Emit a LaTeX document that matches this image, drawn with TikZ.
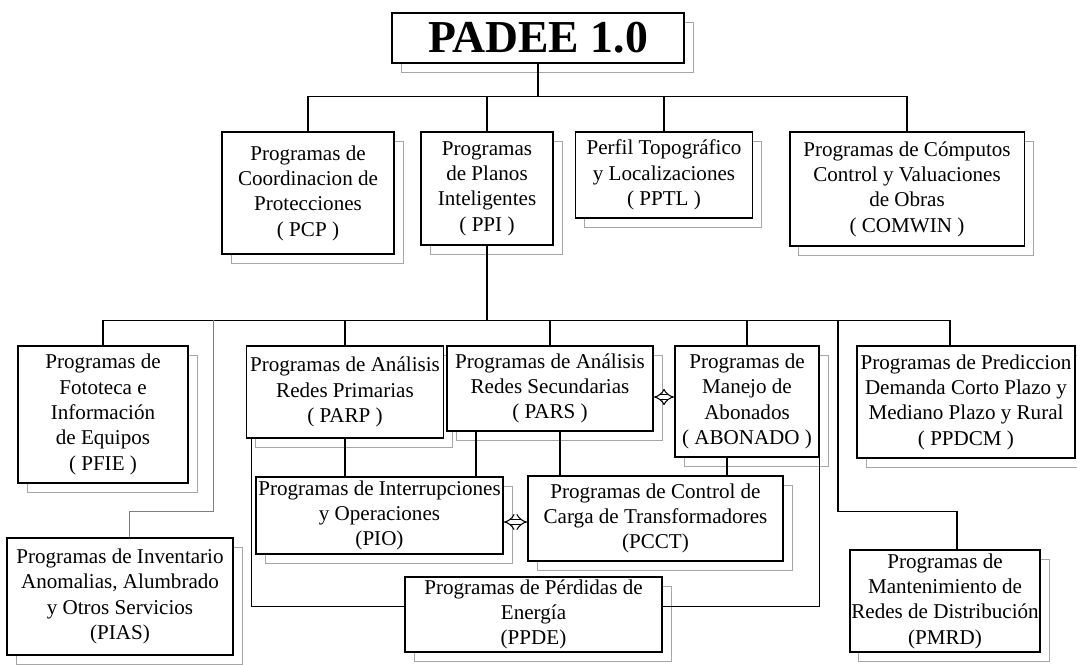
\documentclass[tikz,border=0pt]{standalone}
\usepackage{fontspec}
\setmainfont{Liberation Serif}
\usepackage{tikz}
\usetikzlibrary{arrows.meta, shadows}

\begin{document}
\begin{tikzpicture}[
                x=0.02cm, y=-0.02cm,
                line width=0.6pt,
                prog/.style={draw, fill=white, line width=1.1pt, align=center, inner sep=1pt,
                    font=\fontsize{12}{14.4}\selectfont,
                    copy shadow={shadow xshift=0.18cm, shadow yshift=-0.18cm, draw=gray!70, fill=white, line width=0.5pt}},
                headbox/.style={prog, font=\fontsize{26}{30}\selectfont\bfseries},
                link/.style={double, double distance=2.6pt, line width=0.6pt, Implies-Implies}
            ]
                \useasboundingbox (0,0) rectangle (1077,664);
                \node[headbox, minimum width=5.84cm, minimum height=1.0cm] (padee) at (538,38) {PADEE 1.0};
                \node[prog, minimum width=3.44cm, minimum height=2.44cm] (pcp) at (308,193) {Programas de\\Coordinacion de\\Protecciones\\( PCP )};
                \node[prog, minimum width=2.64cm, minimum height=2.26cm] (ppi) at (487,188.5) {Programas\\de Planos\\Inteligentes\\( PPI )};
                \node[prog, minimum width=3.54cm, minimum height=1.72cm] (pptl) at (664,175) {Perfil Topográfico\\y Localizaciones\\( PPTL )};
                \node[prog, minimum width=4.7cm, minimum height=2.28cm] (comwin) at (907,189) {Programas de Cómputos\\Control y Valuaciones\\de Obras\\( COMWIN )};
                \node[prog, minimum width=3.4cm, minimum height=2.74cm] (pfie) at (103,414.5) {Programas de\\Fototeca e\\Información\\de Equipos\\( PFIE )};
                \node[prog, minimum width=3.94cm, minimum height=1.84cm] (parp) at (345,392) {Programas de Análisis\\Redes Primarias\\( PARP )};
                \node[prog, minimum width=4.12cm, minimum height=1.7cm] (pars) at (550,388.5) {Programas de Análisis\\Redes Secundarias\\( PARS )};
                \node[prog, minimum width=2.88cm, minimum height=2.22cm] (abonado) at (747,401.5) {Programas de\\Manejo de\\Abonados\\( ABONADO )};
                \node[prog, minimum width=4.36cm, minimum height=2.24cm] (ppdcm) at (966,402) {Programas de Prediccion\\Demanda Corto Plazo y\\Mediano Plazo y Rural\\( PPDCM )};
                \node[prog, minimum width=4.94cm, minimum height=1.54cm] (pio) at (379.5,515.5) {Programas de Interrupciones\\y Operaciones\\(PIO)};
                \node[prog, minimum width=5.1cm, minimum height=1.7cm] (pcct) at (655.5,518.5) {Programas de Control de\\Carga de Transformadores\\(PCCT)};
                \node[prog, minimum width=5.14cm, minimum height=1.5cm] (ppde) at (533.5,614.5) {Programas de Pérdidas de\\Energía\\(PPDE)};
                \node[prog, minimum width=4.52cm, minimum height=2.34cm] (pias) at (120,596.5) {Programas de Inventario\\Anomalias, Alumbrado\\y Otros Servicios\\(PIAS)};
                \node[prog, minimum width=3.76cm, minimum height=2.04cm] (pmrd) at (945,601) {Programas de\\Mantenimiento de\\Redes de Distribución\\(PMRD)};
                \coordinate (tapias) at (213,320);
                \coordinate (tapmrd) at (838,320);
                \draw (padee.south) -- ++(0,33) coordinate (bus1);
                \foreach \n in {pcp,ppi,pptl,comwin}
                    \draw (\n.north) |- (bus1);
                \draw (ppi.south) -- ++(0,75) coordinate (bus2);
                \foreach \n in {pfie,parp,pars,abonado}
                    \draw (\n.north) |- (bus2);
                \draw ([xshift=-0.32cm]ppdcm.north) |- (bus2);
                \draw ([xshift=0.24cm]pmrd.north) -- ++(0,-38) -| (tapmrd);
                \draw[gray, line width=0.5pt] ([xshift=0.18cm]pias.north) -- ++(0,-26) -| (tapias);
                \draw (parp.south) -- (parp.south |- pio.north);
                \draw ([xshift=0.11cm]parp.south west) |- ([yshift=0.16cm]ppde.west);
                \draw ([xshift=-1.48cm]pars.south) -- ([xshift=-1.48cm]pars.south |- pio.north);
                \draw ([xshift=0.2cm]pars.south) -- ([xshift=0.2cm]pars.south |- pcct.north);
                \draw ([xshift=-0.4cm]abonado.south) -- ([xshift=-0.4cm]abonado.south |- pcct.north);
                \draw (abonado.south east) |- ([yshift=0.16cm]ppde.east);
                \draw[link] ([yshift=-0.17cm]pars.east) -- ([yshift=-0.17cm]pars.east -| abonado.west);
                \draw[link] ([yshift=-0.13cm]pio.east) -- ([yshift=-0.13cm]pio.east -| pcct.west);
            \end{tikzpicture}
\end{document}
